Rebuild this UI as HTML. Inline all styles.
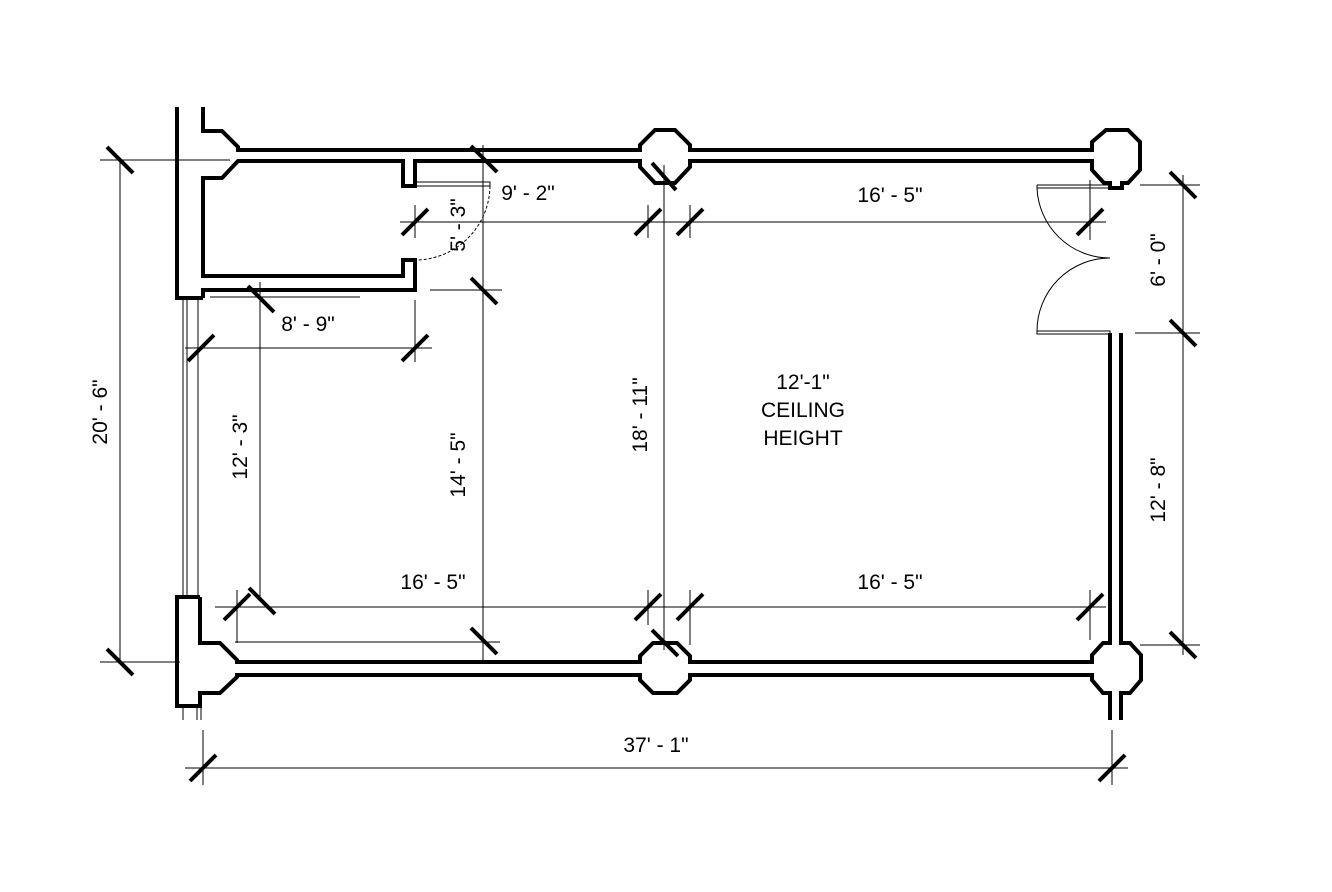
<!DOCTYPE html>
<html><head><style>
html,body{margin:0;padding:0;background:#fff;}
svg{display:block;}
text{font-family:"Liberation Sans",sans-serif;font-size:21px;fill:#000;}
</style></head><body>
<svg width="1332" height="892" viewBox="0 0 1332 892" xmlns="http://www.w3.org/2000/svg">
<g fill="none" stroke="#000" stroke-width="4" stroke-linejoin="miter">
<polyline points="177,107 177,298 203,298"/>
<polyline points="203,107 203,131 222,131 238,147 238,150 640,150 640,145 655,130 675,130 690,145 690,150 1092,150 1092,142 1106,130 1128,130 1140,142 1140,170 1128,183 1122,183 1122,188 1110,188 1110,183 1104,183 1092,170 1092,161 690,161 690,167 675,183 655,183 640,167 640,161 415,161 415,186 403,186 403,161 238,161 222,178 203,178 203,276 403,276 403,260 415,260 415,290 203,290 203,298"/>
<polyline points="200,597 177,597 177,706 200,706 200,693 220,693 237,677 237,675 640,675 640,680 653,693 677,693 690,680 690,675 1092,675 1092,680 1103,693 1110,693 1110,720"/>
<polyline points="200,597 200,643 220,643 237,660 237,662 640,662 640,656 653,643 677,643 690,656 690,662 1092,662 1092,655 1103,643 1110,643 1110,333"/>
<polyline points="1121,333 1121,643 1130,643 1141,655 1141,680 1130,693 1121,693 1121,720"/>
</g>
<g fill="none" stroke="#000" stroke-width="1">
<line x1="183" y1="298" x2="183" y2="597"/><line x1="187" y1="298" x2="187" y2="597"/><line x1="198" y1="298" x2="198" y2="597"/>
<line x1="183" y1="706" x2="183" y2="720"/><line x1="197" y1="706" x2="197" y2="720"/><line x1="201" y1="706" x2="201" y2="720"/>
<polyline points="415,186 490,186 490,182 415,182"/>
<path d="M490,186 A75,75 0 0 1 415,260" stroke-dasharray="3,2"/>
<polyline points="1037,185 1110,185 1110,188 1037,188 1037,185"/>
<path d="M1037,188 A73,73 0 0 0 1110,258"/>
<polyline points="1037,331 1110,331 1110,334 1037,334 1037,331"/>
<path d="M1037,331 A73,73 0 0 1 1110,258"/>
<line x1="120" y1="160" x2="120" y2="662"/>
<line x1="100" y1="160" x2="230" y2="160"/><line x1="100" y1="662" x2="180" y2="662"/>
<line x1="260" y1="282" x2="260" y2="600"/>
<line x1="210" y1="297" x2="360" y2="297"/>
<line x1="185" y1="348" x2="432" y2="348"/>
<line x1="415" y1="300" x2="415" y2="362"/>
<line x1="400" y1="222" x2="1106" y2="222"/>
<line x1="415" y1="205" x2="415" y2="238"/>
<line x1="430" y1="290" x2="502" y2="290"/>
<line x1="483" y1="145" x2="483" y2="662"/>
<line x1="664" y1="165" x2="664" y2="650"/>
<line x1="648" y1="205" x2="648" y2="238"/><line x1="690" y1="205" x2="690" y2="238"/><line x1="1090" y1="180" x2="1090" y2="240"/>
<line x1="1183" y1="175" x2="1183" y2="655"/>
<line x1="1140" y1="185" x2="1200" y2="185"/><line x1="1135" y1="333" x2="1200" y2="333"/><line x1="1140" y1="645" x2="1200" y2="645"/>
<line x1="215" y1="607" x2="1106" y2="607"/>
<line x1="237" y1="590" x2="237" y2="643"/>
<line x1="235" y1="642" x2="500" y2="642"/>
<line x1="648" y1="590" x2="648" y2="625"/><line x1="690" y1="590" x2="690" y2="645"/><line x1="1090" y1="590" x2="1090" y2="640"/>
<line x1="185" y1="768" x2="1128" y2="768"/>
<line x1="203" y1="730" x2="203" y2="785"/><line x1="1112" y1="730" x2="1112" y2="785"/>
</g>
<g stroke="#000" stroke-width="4" stroke-linecap="butt">
<line x1="107" y1="147" x2="133" y2="173"/>
<line x1="107" y1="649" x2="133" y2="675"/>
<line x1="248" y1="286" x2="274" y2="312"/>
<line x1="249" y1="588" x2="275" y2="614"/>
<line x1="471" y1="146" x2="497" y2="172"/>
<line x1="471" y1="278" x2="497" y2="304"/>
<line x1="471" y1="628" x2="497" y2="654"/>
<line x1="652" y1="163" x2="676" y2="190"/>
<line x1="652" y1="630" x2="678" y2="656"/>
<line x1="1170" y1="172" x2="1196" y2="198"/>
<line x1="1170" y1="320" x2="1196" y2="346"/>
<line x1="1170" y1="632" x2="1196" y2="658"/>
<line x1="188" y1="361" x2="214" y2="335"/>
<line x1="402" y1="361" x2="428" y2="335"/>
<line x1="402" y1="235" x2="428" y2="209"/>
<line x1="635" y1="235" x2="661" y2="209"/>
<line x1="677" y1="235" x2="703" y2="209"/>
<line x1="1077" y1="235" x2="1103" y2="209"/>
<line x1="224" y1="620" x2="250" y2="594"/>
<line x1="635" y1="620" x2="661" y2="594"/>
<line x1="677" y1="620" x2="703" y2="594"/>
<line x1="1077" y1="620" x2="1103" y2="594"/>
<line x1="190" y1="781" x2="216" y2="755"/>
<line x1="1099" y1="781" x2="1125" y2="755"/>
</g>
<g text-anchor="middle">
<text x="528" y="200">9' - 2"</text>
<text x="890" y="202">16' - 5"</text>
<text x="308" y="331">8' - 9"</text>
<text x="433" y="589">16' - 5"</text>
<text x="890" y="589">16' - 5"</text>
<text x="656" y="752">37' - 1"</text>
<text x="803" y="389">12'-1"</text>
<text x="803" y="417">CEILING</text>
<text x="803" y="445">HEIGHT</text>
<text transform="translate(107,412) rotate(-90)">20' - 6"</text>
<text transform="translate(247,447) rotate(-90)">12' - 3"</text>
<text transform="translate(465,225) rotate(-90)">5' - 3"</text>
<text transform="translate(465,465) rotate(-90)">14' - 5"</text>
<text transform="translate(647,415) rotate(-90)">18' - 11"</text>
<text transform="translate(1165,260) rotate(-90)">6' - 0"</text>
<text transform="translate(1165,490) rotate(-90)">12' - 8"</text>
</g>
</svg>
</body></html>
